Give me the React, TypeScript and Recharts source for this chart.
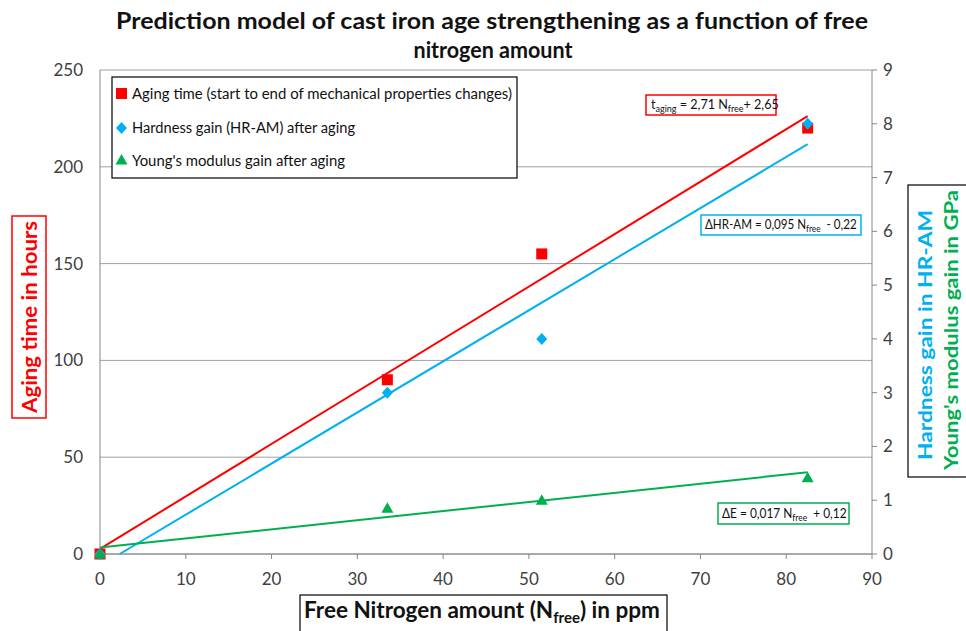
import { ComposedChart, Line, Scatter, XAxis, YAxis, CartesianGrid } from "recharts"

// measured points (free nitrogen in ppm)
const nitrogen = [0, 33.5, 51.5, 82.5]
const agingHours = [0, 90, 155, 220]
const hardnessGain = [0, 3.0, 4.0, 8.0]
const youngGain = [0, 0.85, 1.0, 1.42]

// fitted lines, end points
const agingFit = [[0, 2.65], [82.5, 226.2]]
const hardnessFit = [[2.3, 0], [82.5, 7.62]]
const youngFit = [[0, 0.12], [82.5, 1.52]]

const xTicks = [0, 10, 20, 30, 40, 50, 60, 70, 80, 90]
const leftTicks = [0, 50, 100, 150, 200, 250]
const rightTicks = [0, 1, 2, 3, 4, 5, 6, 7, 8, 9]

const RED = "#ff0000"
const BLUE = "#00b0f0"
const GREEN = "#00b050"
const AXIS = "#868686"
const FONT = "Lato, 'Open Sans', sans-serif"

const toPoints = (xs: number[], ys: number[]) => xs.map((n, i) => ({ n, v: ys[i] }))
const toLine = (pts: number[][]) => pts.map(([n, v]) => ({ n, v }))

const Square = (props: any) => (
  <rect x={props.cx - 5.5} y={props.cy - 5.5} width={11} height={11} fill={RED} />
)
const Diamond = (props: any) => (
  <polygon
    points={`${props.cx},${props.cy - 6} ${props.cx + 5.5},${props.cy} ${props.cx},${props.cy + 6} ${props.cx - 5.5},${props.cy}`}
    fill={BLUE}
  />
)
const Triangle = (props: any) => (
  <polygon
    points={`${props.cx},${props.cy - 6} ${props.cx + 6},${props.cy + 4.5} ${props.cx - 6},${props.cy + 4.5}`}
    fill={GREEN}
  />
)

const tickStyle = { fill: "#404040", fontSize: 17, fontFamily: FONT }

// equation label squeezed to a narrower width (Calibri-like)
function Equation({ x, y, sx, children }: { x: number; y: number; sx: number; children: any }) {
  return (
    <g transform={`translate(${x},${y}) scale(${sx},1)`}>
      <text x={0} y={0} fontSize={14} fill="#111">
        {children}
      </text>
    </g>
  )
}

export default function App() {
  return (
    <div style={{ position: "absolute", left: 0, top: 0, width: 966, height: 631, background: "#fff", fontFamily: FONT }}>
      <ComposedChart width={966} height={631} margin={{ top: 70, right: 54, bottom: 47, left: 40 }}>
        <CartesianGrid yAxisId="left" vertical={false} stroke="#a0a0a0" />
        <XAxis
          type="number"
          dataKey="n"
          domain={[0, 90]}
          ticks={xTicks}
          height={30}
          tick={tickStyle}
          tickSize={5}
          tickMargin={14}
          stroke={AXIS}
        />
        <YAxis
          yAxisId="left"
          type="number"
          domain={[0, 250]}
          ticks={leftTicks}
          width={60}
          tick={tickStyle}
          tickLine={false}
          tickSize={0}
          tickMargin={17}
          stroke={AXIS}
        />
        <YAxis
          yAxisId="right"
          orientation="right"
          type="number"
          domain={[0, 9]}
          ticks={rightTicks}
          width={40}
          tick={tickStyle}
          tickSize={5}
          tickMargin={6}
          stroke={AXIS}
        />
        <Line yAxisId="left" data={toLine(agingFit)} dataKey="v" stroke={RED} strokeWidth={2} dot={false} isAnimationActive={false} />
        <Line yAxisId="right" data={toLine(hardnessFit)} dataKey="v" stroke={BLUE} strokeWidth={2} dot={false} isAnimationActive={false} />
        <Line yAxisId="right" data={toLine(youngFit)} dataKey="v" stroke={GREEN} strokeWidth={2} dot={false} isAnimationActive={false} />
        <Scatter yAxisId="left" data={toPoints(nitrogen, agingHours)} dataKey="v" shape={Square} isAnimationActive={false} />
        <Scatter yAxisId="right" data={toPoints(nitrogen, hardnessGain)} dataKey="v" shape={Diamond} isAnimationActive={false} />
        <Scatter yAxisId="right" data={toPoints(nitrogen, youngGain)} dataKey="v" shape={Triangle} isAnimationActive={false} />
      </ComposedChart>

      <svg width={966} height={631} style={{ position: "absolute", left: 0, top: 0, pointerEvents: "none" }} fontFamily={FONT}>
        {/* title */}
        <text x={492} y={29} textAnchor="middle" fontSize={23} fontWeight="bold" fill="#111" textLength={752} lengthAdjust="spacingAndGlyphs">
          Prediction model of cast iron age strengthening as a function of free
        </text>
        <text x={493} y={58} textAnchor="middle" fontSize={23} fontWeight="bold" fill="#111" textLength={159} lengthAdjust="spacingAndGlyphs">
          nitrogen amount
        </text>

        {/* legend */}
        <rect x={112} y={77} width={405} height={101} fill="#fff" stroke="#000" strokeWidth={1.2} />
        <rect x={116} y={88} width={11} height={11} fill={RED} />
        <text x={132} y={99} fontSize={14.5} fill="#111" textLength={380} lengthAdjust="spacingAndGlyphs">
          Aging time (start to end of mechanical properties changes)
        </text>
        <polygon points="121.5,122 127,128 121.5,134 116,128" fill={BLUE} />
        <text x={132} y={133} fontSize={14.5} fill="#111" textLength={223} lengthAdjust="spacingAndGlyphs">
          Hardness gain (HR-AM) after aging
        </text>
        <polygon points="121.5,154 127.5,164.5 115.5,164.5" fill={GREEN} />
        <text x={132} y={166} fontSize={14.5} fill="#111" textLength={213} lengthAdjust="spacingAndGlyphs">
          Young's modulus gain after aging
        </text>

        {/* equations */}
        <rect x={646} y={95} width={130} height={20} fill="#fff" stroke={RED} strokeWidth={1.5} />
        <Equation x={651} y={109} sx={0.9}>
          t<tspan fontSize={10} dy={3}>aging</tspan>
          <tspan dy={-3}> = 2,71 N</tspan>
          <tspan fontSize={10} dy={3}>free</tspan>
          <tspan dy={-3}>+ 2,65</tspan>
        </Equation>
        <rect x={701} y={215} width={160} height={20} fill="#fff" stroke={BLUE} strokeWidth={1.5} />
        <Equation x={705} y={229} sx={0.83}>
          ΔHR-AM = 0,095 N<tspan fontSize={10} dy={3}>free</tspan>
          <tspan dy={-3}>{"\u00a0\u00a0- 0,22"}</tspan>
        </Equation>
        <rect x={718} y={503} width={131} height={21} fill="#fff" stroke={GREEN} strokeWidth={1.5} />
        <Equation x={722} y={518} sx={0.85}>
          ΔE = 0,017 N<tspan fontSize={10} dy={3}>free</tspan>
          <tspan dy={-3}>{"\u00a0\u00a0+ 0,12"}</tspan>
        </Equation>

        {/* left axis title */}
        <rect x={12} y={216} width={34} height={202} fill="none" stroke={RED} strokeWidth={1.5} />
        <text
          transform="translate(37,317) rotate(-90)"
          textAnchor="middle"
          fontSize={20}
          fontWeight="bold"
          fill={RED}
          textLength={192}
          lengthAdjust="spacingAndGlyphs"
        >
          Aging time in hours
        </text>

        {/* right axis title */}
        <rect x={908} y={185} width={70} height={292} fill="none" stroke="#000" strokeWidth={1.2} />
        <text
          transform="translate(932,335) rotate(-90)"
          textAnchor="middle"
          fontSize={19}
          fontWeight="bold"
          fill={BLUE}
          textLength={250}
          lengthAdjust="spacingAndGlyphs"
        >
          Hardness gain in HR-AM
        </text>
        <text
          transform="translate(958,330) rotate(-90)"
          textAnchor="middle"
          fontSize={19}
          fontWeight="bold"
          fill={GREEN}
          textLength={280}
          lengthAdjust="spacingAndGlyphs"
        >
          Young's modulus gain in GPa
        </text>

        {/* x axis title */}
        <rect x={300} y={595} width={367} height={45} fill="#fff" stroke="#000" strokeWidth={1.2} />
        <text x={304} y={618} fontSize={22.5} fontWeight="bold" fill="#111">
          Free Nitrogen amount (N<tspan fontSize={15} dy={5}>free</tspan>
          <tspan dy={-5}>) in ppm</tspan>
        </text>
      </svg>
    </div>
  )
}
